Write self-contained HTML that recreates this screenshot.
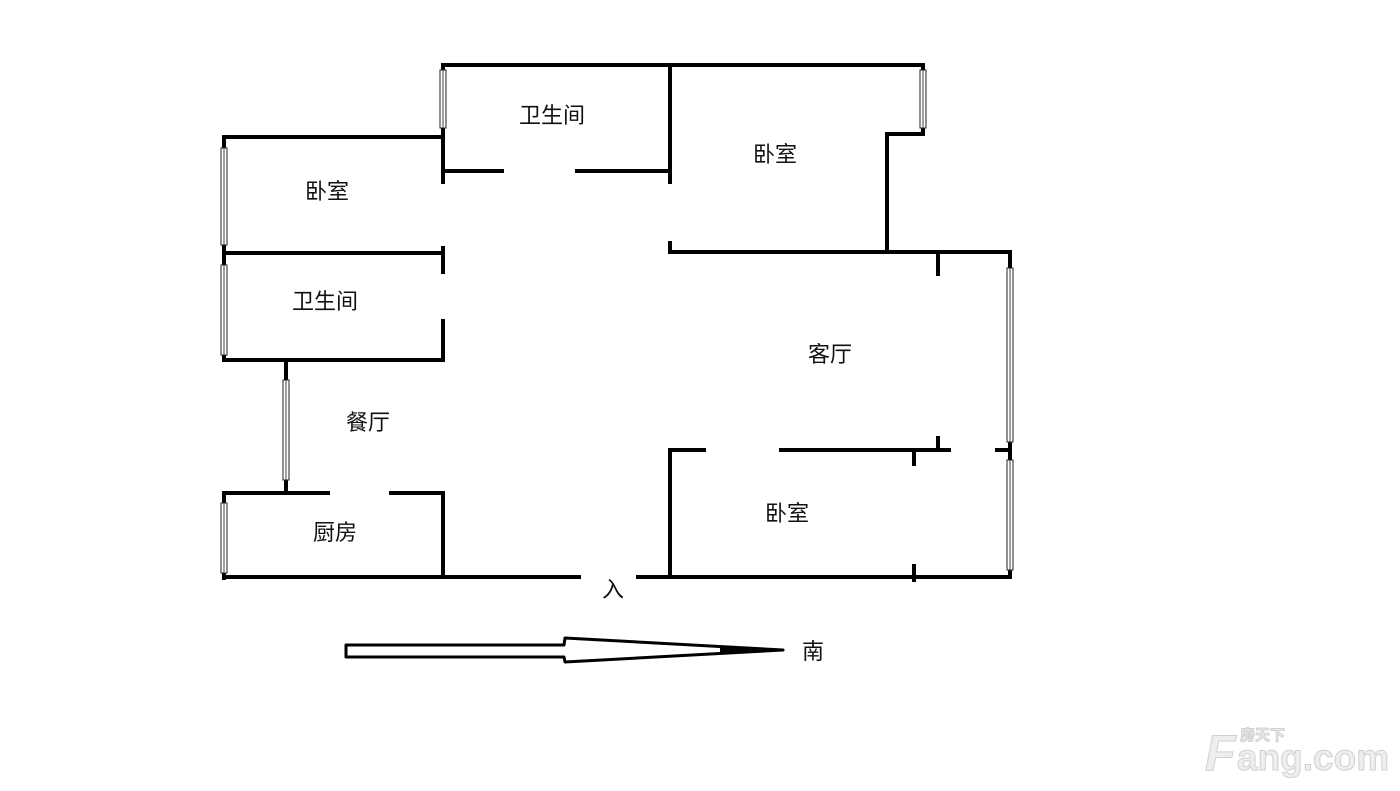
<!DOCTYPE html>
<html><head><meta charset="utf-8">
<style>
html,body{margin:0;padding:0;background:#fff;}
body{width:1400px;height:791px;overflow:hidden;position:relative;}
svg{position:absolute;left:0;top:0;}
text{font-family:"Liberation Sans","Noto Sans CJK SC",sans-serif;fill:#111;}
</style></head><body>
<svg width="1400" height="791" viewBox="0 0 1400 791">
<g stroke="#000" stroke-width="4" fill="none" stroke-linecap="square">
<line x1="443" y1="65" x2="922" y2="65"/>
<line x1="443" y1="65" x2="443" y2="182"/>
<line x1="670" y1="65" x2="670" y2="182"/>
<line x1="443" y1="171" x2="502" y2="171"/>
<line x1="577" y1="171" x2="670" y2="171"/>
<line x1="224" y1="137" x2="443" y2="137"/>
<line x1="224" y1="137" x2="224" y2="360"/>
<line x1="224" y1="493" x2="224" y2="578"/>
<line x1="224" y1="253" x2="443" y2="253"/>
<line x1="443" y1="248" x2="443" y2="272"/>
<line x1="224" y1="360" x2="443" y2="360"/>
<line x1="443" y1="321" x2="443" y2="360"/>
<line x1="286" y1="360" x2="286" y2="493"/>
<line x1="224" y1="493" x2="328" y2="493"/>
<line x1="391" y1="493" x2="443" y2="493"/>
<line x1="443" y1="493" x2="443" y2="577"/>
<line x1="224" y1="577" x2="579" y2="577"/>
<line x1="638" y1="577" x2="1010" y2="577"/>
<line x1="670" y1="243" x2="670" y2="252"/>
<line x1="670" y1="252" x2="1010" y2="252"/>
<line x1="887" y1="134" x2="887" y2="252"/>
<line x1="887" y1="134" x2="923" y2="134"/>
<line x1="923" y1="65" x2="923" y2="134"/>
<line x1="1010" y1="252" x2="1010" y2="577"/>
<line x1="938" y1="252" x2="938" y2="274"/>
<line x1="781" y1="450" x2="949" y2="450"/>
<line x1="938" y1="438" x2="938" y2="450"/>
<line x1="914" y1="450" x2="914" y2="464"/>
<line x1="997" y1="450" x2="1010" y2="450"/>
<line x1="670" y1="450" x2="704" y2="450"/>
<line x1="670" y1="450" x2="670" y2="577"/>
<line x1="914" y1="566" x2="914" y2="580"/>
</g>
<g fill="#fff" stroke="#222" stroke-width="1">
<rect x="440" y="70" width="6" height="58"/>
<rect x="221" y="148" width="6" height="97"/>
<rect x="221" y="265" width="6" height="90"/>
<rect x="283" y="380" width="6" height="100"/>
<rect x="221" y="503" width="6" height="70"/>
<rect x="920" y="70" width="6" height="58"/>
<rect x="1007" y="268" width="6" height="174"/>
<rect x="1007" y="460" width="6" height="110"/>
</g>
<g stroke="#444" stroke-width="1">
<line x1="443" y1="70" x2="443" y2="128"/>
<line x1="224" y1="148" x2="224" y2="245"/>
<line x1="224" y1="265" x2="224" y2="355"/>
<line x1="286" y1="380" x2="286" y2="480"/>
<line x1="224" y1="503" x2="224" y2="573"/>
<line x1="923" y1="70" x2="923" y2="128"/>
<line x1="1010" y1="268" x2="1010" y2="442"/>
<line x1="1010" y1="460" x2="1010" y2="570"/>
</g>
<path d="M346,645 L564,645 L565,638 L783,650 L565,662 L564,657 L346,657 Z" fill="#fff" stroke="#000" stroke-width="3" stroke-linejoin="round"/>
<path d="M720,647 L783,650 L720,653 Z" fill="#000"/>
<g font-size="22" text-anchor="middle">
<text x="552" y="123">卫生间</text>
<text x="775" y="162">卧室</text>
<text x="327" y="199">卧室</text>
<text x="325" y="309">卫生间</text>
<text x="830" y="362">客厅</text>
<text x="368" y="430">餐厅</text>
<text x="335" y="540">厨房</text>
<text x="787" y="521">卧室</text>
<text x="613" y="597">入</text>
<text x="813" y="659">南</text>
</g>
<g stroke="#d0d0d0" stroke-width="1">
<text x="1205" y="770" font-size="50" font-weight="bold" font-style="italic" style="fill:#eee">F</text>
<text x="1237" y="770" font-size="37" font-weight="bold" style="fill:#eee">ang.com</text>
<text x="1240" y="740" font-size="15" font-weight="bold" style="fill:#eee">房天下</text>
</g>
</svg>
</body></html>
